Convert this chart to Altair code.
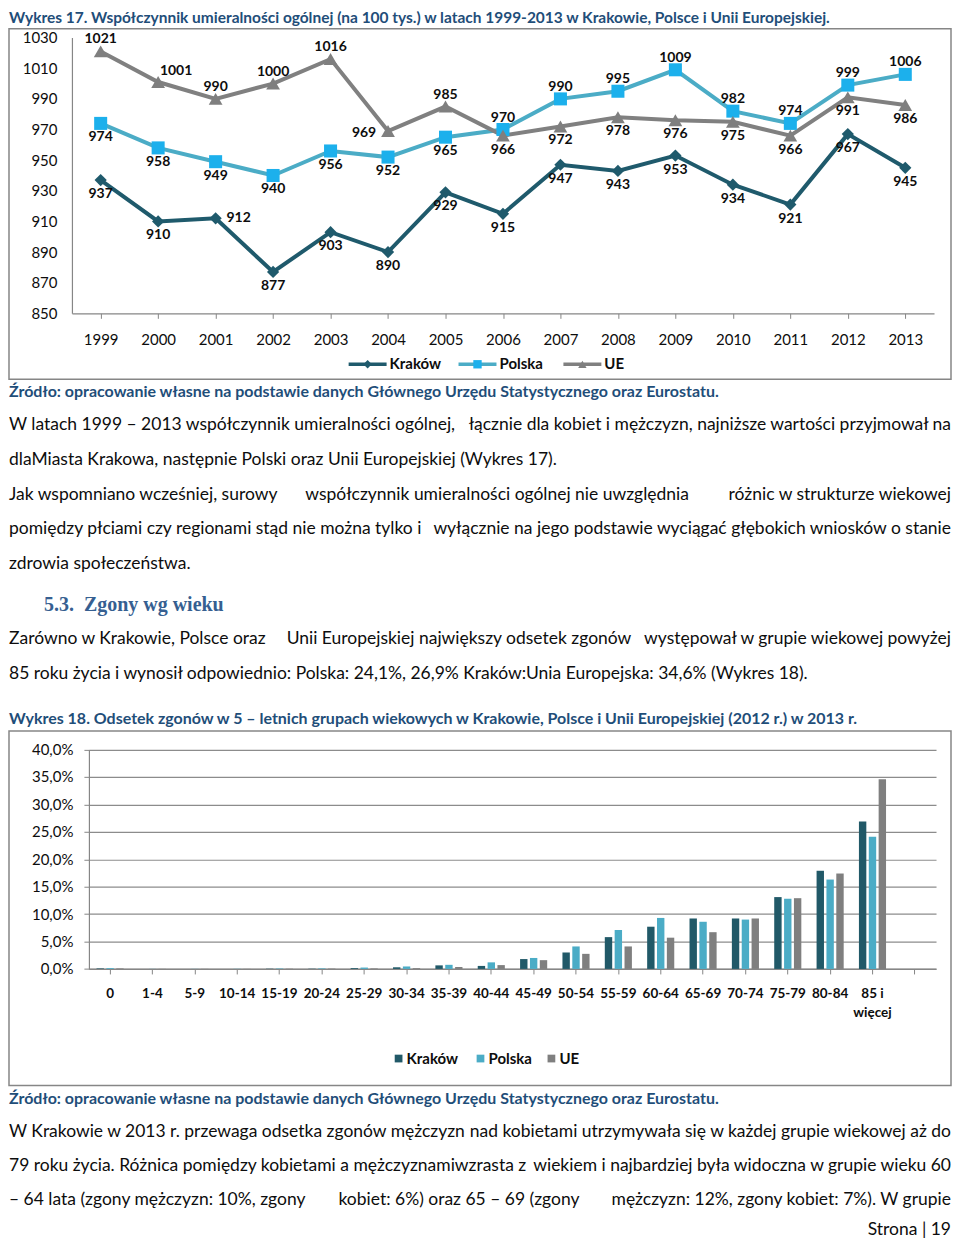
import altair as alt
import pandas as pd

FONT = "Lato"
GRAY = "#868686"
BLUE_T = "#1F4E79"
INK = "#0D0D0D"

# ---------------- data: chart 1 ----------------
YEARS = ["1999", "2000", "2001", "2002", "2003", "2004", "2005", "2006",
         "2007", "2008", "2009", "2010", "2011", "2012", "2013"]
SERIES = ["Kraków", "Polska", "UE"]
KRAKOW = [937, 910, 912, 877, 903, 890, 929, 915, 947, 943, 953, 934, 921, 967, 945]
POLSKA = [974, 958, 949, 940, 956, 952, 965, 970, 990, 995, 1009, 982, 974, 999, 1006]
UE = [1021, 1001, 990, 1000, 1016, 969, 985, 966, 972, 978, 976, 975, 966, 991, 986]
Y_TICKS = [850, 870, 890, 910, 930, 950, 970, 990, 1010, 1030]

LINE_COLORS = ["#1F5A6C", "#4BACC6", "#808080"]
MARK_COLORS = ["#1F5A6C", "#1CB0EC", "#7F7F7F"]
SHAPES = ["diamond", "square", "triangle-up"]
SIZES = [150, 170, 190]

# ---------------- data: chart 2 ----------------
AGES = ["0", "1-4", "5-9", "10-14", "15-19", "20-24", "25-29", "30-34", "35-39",
        "40-44", "45-49", "50-54", "55-59", "60-64", "65-69", "70-74", "75-79",
        "80-84", "85 i więcej"]
K_AGE = [0.1, 0.0, 0.0, 0.0, 0.05, 0.05, 0.15, 0.3, 0.65, 0.55, 1.8, 3.0, 5.8, 7.7, 9.2, 9.2, 13.1, 17.9, 26.9]
P_AGE = [0.15, 0.02, 0.02, 0.03, 0.08, 0.1, 0.25, 0.45, 0.75, 1.2, 2.0, 4.1, 7.1, 9.3, 8.6, 9.0, 12.8, 16.3, 24.1]
U_AGE = [0.1, 0.02, 0.02, 0.02, 0.05, 0.07, 0.1, 0.15, 0.35, 0.7, 1.6, 2.75, 4.1, 5.7, 6.7, 9.2, 12.9, 17.4, 34.6]
PCT_TICKS = [0, 5, 10, 15, 20, 25, 30, 35, 40]
BAR_COLORS = ["#215968", "#4BACC6", "#7F7F7F"]

# ---------------- texts ----------------
T17 = "Wykres 17. Współczynnik umieralności ogólnej (na 100 tys.) w latach 1999-2013 w Krakowie, Polsce i Unii Europejskiej."
T18 = "Wykres 18. Odsetek zgonów w 5 – letnich grupach wiekowych w Krakowie, Polsce i Unii Europejskiej (2012 r.) w 2013 r."
SRC = "Źródło: opracowanie własne na podstawie danych Głównego Urzędu Statystycznego oraz Eurostatu."
PARA_A = [
    "W latach 1999 – 2013 współczynnik umieralności ogólnej, łącznie dla kobiet i mężczyzn, najniższe wartości przyjmował na",
    "dlaMiasta Krakowa, następnie Polski oraz Unii Europejskiej (Wykres 17).",
    "Jak wspomniano wcześniej, surowy współczynnik umieralności ogólnej nie uwzględnia różnic w strukturze wiekowej",
    "pomiędzy płciami czy regionami stąd nie można tylko i wyłącznie na jego podstawie wyciągać głębokich wniosków o stanie",
    "zdrowia społeczeństwa.",
]
PARA_A_CHUNKS = [2, 1, 3, 2, 1]
HEAD_NUM = "5.3."
HEAD_TXT = "Zgony wg wieku"
PARA_B = [
    "Zarówno w Krakowie, Polsce oraz Unii Europejskiej największy odsetek zgonów występował w grupie wiekowej powyżej",
    "85 roku życia i wynosił odpowiednio: Polska: 24,1%, 26,9% Kraków:Unia Europejska: 34,6% (Wykres 18).",
]
PARA_B_CHUNKS = [3, 1]
PARA_C = [
    "W Krakowie w 2013 r. przewaga odsetka zgonów mężczyzn nad kobietami utrzymywała się w każdej grupie wiekowej aż do",
    "79 roku życia. Różnica pomiędzy kobietami a mężczyznamiwzrasta z wiekiem i najbardziej była widoczna w grupie wieku 60",
    "– 64 lata (zgony mężczyzn: 10%, zgony kobiet: 6%) oraz 65 – 69 (zgony mężczyzn: 12%, zgony kobiet: 7%). W grupie",
]
PARA_C_CHUNKS = [2, 2, 3]
PAGE = "Strona | 19"

W = 944
HA = 721
HB = 512
XR = 943          # right edge of justified text
BODY = 17.5

# ---------------- tables ----------------
rows = []
for s, vals in zip(SERIES, [KRAKOW, POLSKA, UE]):
    for yr, v in zip(YEARS, vals):
        y = int(yr)
        if s == "UE":
            if y == 2004:
                pos = "left"
            elif y == 2000:
                pos = "aboveright"
            else:
                pos = "above" if y <= 2005 else "below"
        elif s == "Polska":
            pos = "below" if y <= 2005 else "above"
        else:
            pos = "right" if y == 2001 else "below"
        rows.append({"year": yr, "series": s, "value": v, "pos": pos})
df1 = pd.DataFrame(rows)

rows2 = []
for s, vals in zip(SERIES, [K_AGE, P_AGE, U_AGE]):
    for a, v in zip(AGES, vals):
        rows2.append({"age": a, "series": s, "pct": v})
df2 = pd.DataFrame(rows2)

ONE = alt.Data(values=[{}])


def txt(s, x, y, size=BODY, weight="normal", color=INK, align="left", font=FONT, baseline="middle"):
    return alt.Chart(ONE).mark_text(
        text=s, align=align, baseline=baseline, fontSize=size,
        fontWeight=weight, color=color, font=font
    ).encode(x=alt.value(x), y=alt.value(y))


def para_line(s, y, chunks):
    """Approximate a justified line with left / (middle) / right chunks."""
    if chunks == 1:
        return [txt(s, 0, y)]
    words = s.split(" ")
    n = len(words)
    if chunks == 2:
        a = n // 2
        return [txt(" ".join(words[:a]), 0, y),
                txt(" ".join(words[a:]), XR, y, align="right")]
    a = max(1, round(n / 3))
    b = max(a + 1, round(2 * n / 3))
    g1 = " ".join(words[:a])
    g2 = " ".join(words[a:b])
    g3 = " ".join(words[b:])
    c2 = (len(g1) + 1 + len(g2) / 2) / len(s) * XR
    return [txt(g1, 0, y), txt(g2, c2, y, align="center"), txt(g3, XR, y, align="right")]


def box(x1, x2, y1, y2):
    return alt.Chart(ONE).mark_rect(
        fillOpacity=0, stroke=GRAY, strokeWidth=1.5
    ).encode(x=alt.value(x1), x2=alt.value(x2), y=alt.value(y1), y2=alt.value(y2))


# ---------------- panel A: line chart ----------------
A_Y0, A_Y1 = 305, 29
xA = alt.X("year:N", sort=YEARS,
           scale=alt.Scale(type="point", domain=YEARS, range=[63, 926], padding=0.5),
           axis=alt.Axis(title=None, orient="bottom", offset=-(HA - A_Y0), labelAngle=0,
                         tickSize=5, tickColor=GRAY, domainColor=GRAY, domainWidth=1.2,
                         labelPadding=14, labelFont=FONT, labelFontSize=15,
                         labelColor=INK, grid=False))
yA = alt.Y("value:Q",
           scale=alt.Scale(domain=[850, 1030], range=[A_Y0, A_Y1], nice=False, zero=False),
           axis=alt.Axis(title=None, values=Y_TICKS, format="d", offset=-63, ticks=False,
                         labelPadding=15, domainColor=GRAY, domainWidth=1.2, grid=False,
                         labelFont=FONT, labelFontSize=15, labelColor=INK))

lines = alt.Chart(df1).mark_line(strokeWidth=4).encode(
    x=xA, y=yA,
    stroke=alt.Stroke("series:N", scale=alt.Scale(domain=SERIES, range=LINE_COLORS), legend=None),
)

points = []
for s, c, sh, sz in zip(SERIES, MARK_COLORS, SHAPES, SIZES):
    points.append(
        alt.Chart(df1).transform_filter(alt.datum.series == s)
        .mark_point(filled=True, opacity=1, shape=sh, size=sz, color=c)
        .encode(x=xA, y=yA)
    )

LABEL_OFFSETS = [("above", 0, -12), ("below", 0, 14), ("right", 23, 0),
                 ("left", -24, 2), ("aboveright", 18, -11)]
labels = []
for p, dx, dy in LABEL_OFFSETS:
    labels.append(
        alt.Chart(df1).transform_filter(alt.datum.pos == p)
        .mark_text(dx=dx, dy=dy, fontWeight="bold", fontSize=14, font=FONT, color=INK)
        .encode(x=xA, y=yA, text="value:Q")
    )

legA = []
LEG_A_X = [340, 450, 555]
for s, lc, mc, sh, lx in zip(SERIES, LINE_COLORS, MARK_COLORS, SHAPES, LEG_A_X):
    legA.append(alt.Chart(ONE).mark_rule(strokeWidth=3.5, color=lc).encode(
        x=alt.value(lx), x2=alt.value(lx + 38), y=alt.value(356)))
    legA.append(alt.Chart(ONE).mark_point(filled=True, opacity=1, shape=sh, size=70, color=mc).encode(
        x=alt.value(lx + 19), y=alt.value(356)))
    legA.append(txt(s, lx + 41, 356, size=15, weight="bold"))

textsA = [txt(T17, 0, 14.5, size=15.5, weight="bold", color=BLUE_T, baseline="alphabetic"),
          txt(SRC, 0, 384, size=16, weight="bold", color=BLUE_T)]
for t, y, c in zip(PARA_A, [417, 452, 487, 521, 556], PARA_A_CHUNKS):
    textsA += para_line(t, y, c)
textsA.append(txt(HEAD_NUM, 35, 597, size=20, weight="bold", color="#365F91", font="Liberation Serif"))
textsA.append(txt(HEAD_TXT, 75, 597, size=20, weight="bold", color="#365F91", font="Liberation Serif"))
for t, y, c in zip(PARA_B, [631, 666], PARA_B_CHUNKS):
    textsA += para_line(t, y, c)
textsA.append(txt(T18, 0, 711, size=16, weight="bold", color=BLUE_T))

panelA = alt.layer(
    box(0, 943, 20, 371), lines, *points, *labels, *legA, *textsA
).properties(width=W, height=HA)

# ---------------- panel B: bar chart ----------------
B_Y0, B_Y1 = 240.3, 20.7
xB = alt.X("age:N", sort=AGES,
           scale=alt.Scale(domain=AGES + [" "], range=[80, 928], paddingInner=0.36, paddingOuter=0.18),
           axis=alt.Axis(title=None, orient="bottom", offset=-(HB - B_Y0), labelAngle=0,
                         tickSize=5, tickColor=GRAY, domainColor=GRAY, domainWidth=1.2,
                         labelPadding=13, labelFont=FONT, labelFontSize=13.5,
                         labelFontWeight="bold", labelColor=INK, labelLineHeight=19,
                         labelExpr="datum.label == '85 i więcej' ? ['85 i', 'więcej'] : datum.label",
                         grid=False))
yB = alt.Y("pct:Q",
           scale=alt.Scale(domain=[0, 40], range=[B_Y0, B_Y1], nice=False),
           axis=alt.Axis(title=None, values=PCT_TICKS, offset=-80, tickSize=5, tickColor=GRAY,
                         labelPadding=11, domainColor=GRAY, domainWidth=1.2, grid=True,
                         gridColor="#8C8C8C", gridWidth=1.2,
                         labelExpr="replace(format(datum.value, '.1f'), '.', ',') + '%'",
                         labelFont=FONT, labelFontSize=15, labelColor=INK))

bars = alt.Chart(df2).mark_bar().encode(
    x=xB, y=yB,
    xOffset=alt.XOffset("series:N", sort=SERIES,
                        scale=alt.Scale(domain=SERIES, paddingInner=0.25)),
    color=alt.Color("series:N", scale=alt.Scale(domain=SERIES, range=BAR_COLORS), legend=None),
)

legB = []
for s, c, lx in zip(SERIES, BAR_COLORS, [390, 472, 543]):
    legB.append(alt.Chart(ONE).mark_square(size=60, color=c, opacity=1).encode(
        x=alt.value(lx), y=alt.value(330)))
    legB.append(txt(s, lx + 8, 330, size=15, weight="bold"))

textsB = [txt(SRC, 0, 371, size=16, weight="bold", color=BLUE_T)]
for t, y, c in zip(PARA_C, [404, 438, 472], PARA_C_CHUNKS):
    textsB += para_line(t, y, c)
textsB.append(txt(PAGE, XR, 502, align="right"))

panelB = alt.layer(
    box(0, 943, 2, 357), bars, *legB, *textsB
).properties(width=W, height=HB)

chart = alt.vconcat(panelA, panelB, spacing=0).properties(padding=0).configure_view(stroke=None)

chart.save("out.html", embed_options={"renderer": "svg", "actions": False})
